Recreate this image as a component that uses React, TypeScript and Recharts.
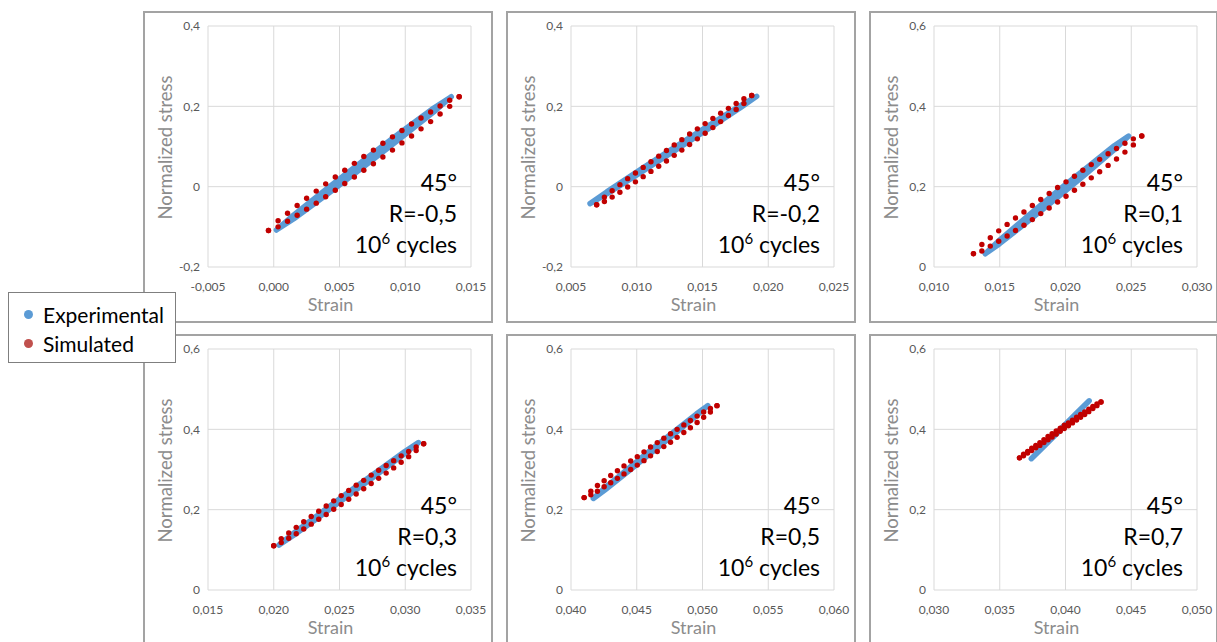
import React from "react";
import { ScatterChart, Scatter, XAxis, YAxis, CartesianGrid } from "recharts";

// axis ticks
const xTicks1 = [-0.005, 0, 0.005, 0.01, 0.015];
const xTicks2 = [0.005, 0.01, 0.015, 0.02, 0.025];
const xTicks3 = [0.01, 0.015, 0.02, 0.025, 0.03];
const xTicks4 = [0.015, 0.02, 0.025, 0.03, 0.035];
const xTicks5 = [0.04, 0.045, 0.05, 0.055, 0.06];
const xTicks6 = [0.03, 0.035, 0.04, 0.045, 0.05];
const yTicksLow = [-0.2, 0, 0.2, 0.4];
const yTicksHigh = [0, 0.2, 0.4, 0.6];

const rLabels = ["R=-0,5", "R=-0,2", "R=0,1", "R=0,3", "R=0,5", "R=0,7"];

// experimental loops (strain, loading stress, unloading stress)
const expStrain1 = [0.0002, 0.00153, 0.00419, 0.00685, 0.00951, 0.01217, 0.0135];
const expLoad1 = [-0.108, -0.08, -0.016, 0.05, 0.117, 0.186, 0.224];
const expUnload1 = [-0.108, -0.07, -0.001, 0.066, 0.132, 0.196, 0.224];
const expStrain2 = [0.00645, 0.00772, 0.01025, 0.01279, 0.01532, 0.01785, 0.01912];
const expLoad2 = [-0.042, -0.018, 0.034, 0.088, 0.141, 0.196, 0.225];
const expUnload2 = [-0.042, -0.013, 0.042, 0.096, 0.149, 0.201, 0.225];
const expStrain3 = [0.0139, 0.01499, 0.01717, 0.01935, 0.02153, 0.02371, 0.0248];
const expLoad3 = [0.033, 0.058, 0.114, 0.172, 0.231, 0.292, 0.326];
const expUnload3 = [0.033, 0.067, 0.128, 0.188, 0.245, 0.302, 0.326];
const expStrain4 = [0.0204, 0.02146, 0.02358, 0.0257, 0.02782, 0.02994, 0.031];
const expLoad4 = [0.112, 0.135, 0.185, 0.236, 0.287, 0.339, 0.367];
const expUnload4 = [0.112, 0.14, 0.192, 0.244, 0.294, 0.344, 0.367];
const expStrain5 = [0.0417, 0.04257, 0.04431, 0.04605, 0.04779, 0.04953, 0.0504];
const expLoad5 = [0.228, 0.249, 0.294, 0.34, 0.386, 0.434, 0.459];
const expUnload5 = [0.228, 0.254, 0.301, 0.348, 0.393, 0.438, 0.459];
const expStrain6 = [0.0374, 0.0385, 0.0396, 0.0407, 0.0418];
const expLoad6 = [0.327, 0.362, 0.398, 0.434, 0.471];
const expUnload6 = [0.327, 0.364, 0.4, 0.436, 0.471];

// simulated loops
const simStrain1 = [-0.0004, 0.00033, 0.00105, 0.00178, 0.0025, 0.00323, 0.00395, 0.00468, 0.0054, 0.00613, 0.00685, 0.00758, 0.0083, 0.00903, 0.00975, 0.01048, 0.0112, 0.01193, 0.01265, 0.01338, 0.0141];
const simLoad1 = [-0.109, -0.1, -0.086, -0.071, -0.056, -0.041, -0.025, -0.009, 0.008, 0.024, 0.041, 0.057, 0.074, 0.091, 0.109, 0.126, 0.144, 0.162, 0.181, 0.2, 0.224];
const simUnload1 = [-0.109, -0.085, -0.066, -0.047, -0.029, -0.011, 0.007, 0.024, 0.041, 0.058, 0.075, 0.091, 0.108, 0.124, 0.14, 0.156, 0.171, 0.186, 0.201, 0.215, 0.224];
const simStrain2 = [0.00695, 0.00754, 0.00813, 0.00872, 0.00931, 0.0099, 0.01049, 0.01108, 0.01167, 0.01226, 0.01285, 0.01343, 0.01402, 0.01461, 0.0152, 0.01579, 0.01638, 0.01697, 0.01756, 0.01815, 0.01874];
const simLoad2 = [-0.045, -0.037, -0.026, -0.014, -0.001, 0.012, 0.025, 0.038, 0.051, 0.064, 0.078, 0.091, 0.105, 0.119, 0.133, 0.147, 0.162, 0.177, 0.192, 0.207, 0.227];
const simUnload2 = [-0.045, -0.026, -0.01, 0.005, 0.02, 0.034, 0.048, 0.062, 0.076, 0.09, 0.104, 0.117, 0.131, 0.144, 0.157, 0.17, 0.183, 0.195, 0.207, 0.219, 0.227];
const simStrain3 = [0.013, 0.01364, 0.01428, 0.01492, 0.01556, 0.0162, 0.01684, 0.01748, 0.01812, 0.01876, 0.0194, 0.02004, 0.02068, 0.02132, 0.02196, 0.0226, 0.02324, 0.02388, 0.02452, 0.02516, 0.0258];
const simLoad3 = [0.033, 0.04, 0.052, 0.064, 0.077, 0.091, 0.104, 0.118, 0.133, 0.147, 0.162, 0.176, 0.191, 0.206, 0.222, 0.237, 0.253, 0.269, 0.286, 0.304, 0.326];
const simUnload3 = [0.033, 0.056, 0.073, 0.09, 0.106, 0.122, 0.137, 0.153, 0.168, 0.183, 0.198, 0.212, 0.226, 0.241, 0.255, 0.268, 0.282, 0.295, 0.308, 0.319, 0.326];
const simStrain4 = [0.02, 0.02057, 0.02114, 0.02171, 0.02228, 0.02285, 0.02342, 0.02399, 0.02456, 0.02513, 0.0257, 0.02627, 0.02684, 0.02741, 0.02798, 0.02855, 0.02912, 0.02969, 0.03026, 0.03083, 0.0314];
const simLoad4 = [0.11, 0.118, 0.129, 0.14, 0.152, 0.164, 0.176, 0.188, 0.201, 0.213, 0.226, 0.239, 0.252, 0.265, 0.278, 0.291, 0.304, 0.318, 0.332, 0.347, 0.364];
const simUnload4 = [0.11, 0.128, 0.142, 0.156, 0.17, 0.183, 0.196, 0.209, 0.222, 0.235, 0.248, 0.261, 0.273, 0.286, 0.298, 0.31, 0.322, 0.334, 0.345, 0.356, 0.364];
const simStrain5 = [0.041, 0.04151, 0.04201, 0.04252, 0.04302, 0.04353, 0.04403, 0.04454, 0.04504, 0.04555, 0.04605, 0.04656, 0.04706, 0.04757, 0.04807, 0.04858, 0.04908, 0.04959, 0.05009, 0.0506, 0.0511];
const simLoad5 = [0.23, 0.237, 0.246, 0.257, 0.267, 0.278, 0.289, 0.3, 0.311, 0.322, 0.334, 0.345, 0.357, 0.368, 0.38, 0.392, 0.404, 0.417, 0.43, 0.443, 0.459];
const simUnload5 = [0.23, 0.246, 0.26, 0.272, 0.285, 0.297, 0.309, 0.321, 0.332, 0.344, 0.356, 0.367, 0.378, 0.389, 0.4, 0.411, 0.422, 0.433, 0.443, 0.452, 0.459];
const simStrain6 = [0.0365, 0.03681, 0.03712, 0.03743, 0.03774, 0.03805, 0.03836, 0.03867, 0.03898, 0.03929, 0.0396, 0.03991, 0.04022, 0.04053, 0.04084, 0.04115, 0.04146, 0.04177, 0.04208, 0.04239, 0.0427];
const simLoad6 = [0.329, 0.334, 0.341, 0.347, 0.354, 0.36, 0.367, 0.374, 0.381, 0.388, 0.395, 0.402, 0.409, 0.416, 0.423, 0.43, 0.437, 0.444, 0.452, 0.459, 0.468];
const simUnload6 = [0.329, 0.338, 0.345, 0.353, 0.36, 0.367, 0.374, 0.382, 0.389, 0.396, 0.403, 0.41, 0.416, 0.423, 0.43, 0.437, 0.443, 0.45, 0.457, 0.463, 0.468];

type Pt = { x: number; y: number };

// loading branch up, unloading branch back down -> closed loop
const loop = (xs: number[], load: number[], unload: number[]): Pt[] => [
  ...xs.map((x, i) => ({ x, y: load[i] })),
  ...xs.map((x, i) => ({ x, y: unload[i] })).reverse(),
];

const BLUE = "#5b9bd5";
const RED = "#c00000";

const panels = [
  { left: 143, top: 11, width: 350, xTicks: xTicks1, yTicks: yTicksLow, r: rLabels[0], exp: loop(expStrain1, expLoad1, expUnload1), sim: loop(simStrain1, simLoad1, simUnload1) },
  { left: 506, top: 11, width: 350, xTicks: xTicks2, yTicks: yTicksLow, r: rLabels[1], exp: loop(expStrain2, expLoad2, expUnload2), sim: loop(simStrain2, simLoad2, simUnload2) },
  { left: 869, top: 11, width: 349, xTicks: xTicks3, yTicks: yTicksHigh, r: rLabels[2], exp: loop(expStrain3, expLoad3, expUnload3), sim: loop(simStrain3, simLoad3, simUnload3) },
  { left: 143, top: 334, width: 350, xTicks: xTicks4, yTicks: yTicksHigh, r: rLabels[3], exp: loop(expStrain4, expLoad4, expUnload4), sim: loop(simStrain4, simLoad4, simUnload4) },
  { left: 506, top: 334, width: 350, xTicks: xTicks5, yTicks: yTicksHigh, r: rLabels[4], exp: loop(expStrain5, expLoad5, expUnload5), sim: loop(simStrain5, simLoad5, simUnload5) },
  { left: 869, top: 334, width: 349, xTicks: xTicks6, yTicks: yTicksHigh, r: rLabels[5], exp: loop(expStrain6, expLoad6, expUnload6), sim: loop(simStrain6, simLoad6, simUnload6) },
];

const fmtX = (v: number) => v.toFixed(3).replace(".", ",");
const fmtY = (v: number) => (v === 0 ? "0" : v.toFixed(1).replace(".", ","));

const SimDot = (p: any) => <circle cx={p.cx} cy={p.cy} r={2.7} fill={RED} />;
const NoDot = () => <g />;

const StrainLabel = (p: any) => {
  const vb = p.viewBox ?? { x: 63, y: 254, width: 263, height: 54 };
  return (
    <text x={vb.x + vb.width / 2 - 9} y={vb.y + 44} textAnchor="middle" fill="#8c8c8c" fontSize={18}>
      Strain
    </text>
  );
};

const StressLabel = (p: any) => {
  const vb = p.viewBox ?? { x: 0, y: 13, width: 63, height: 241 };
  const cx = 20;
  const cy = vb.y + vb.height / 2 + 1;
  return (
    <text x={cx} y={cy} transform={`rotate(-90, ${cx}, ${cy})`} textAnchor="middle" dominantBaseline="central" fill="#8c8c8c" fontSize={18.5}>
      Normalized stress
    </text>
  );
};

function Panel({ p }: { p: (typeof panels)[number] }) {
  const w = p.width - 4;
  const tick = { fill: "#595959", fontSize: 12 };
  return (
    <div
      style={{
        position: "absolute",
        left: p.left,
        top: p.top,
        width: p.width,
        height: 312,
        boxSizing: "border-box",
        border: "2px solid #a3a3a3",
        background: "#fff",
      }}
    >
      <ScatterChart width={w} height={308} margin={{ top: 13, right: w - 326, bottom: 0, left: 0 }}>
        <CartesianGrid stroke="#d9d9d9" />
        <XAxis
          type="number"
          dataKey="x"
          domain={[p.xTicks[0], p.xTicks[p.xTicks.length - 1]]}
          ticks={p.xTicks}
          interval={0}
          allowDataOverflow
          tickFormatter={fmtX}
          tick={tick}
          axisLine={false}
          tickLine={false}
          tickSize={0}
          tickMargin={15}
          height={54}
          label={StrainLabel}
        />
        <YAxis
          type="number"
          dataKey="y"
          domain={[p.yTicks[0], p.yTicks[p.yTicks.length - 1]]}
          ticks={p.yTicks}
          interval={0}
          allowDataOverflow
          tickFormatter={fmtY}
          tick={tick}
          axisLine={false}
          tickLine={false}
          tickSize={0}
          tickMargin={8}
          width={63}
          label={StressLabel}
        />
        <Scatter
          data={p.exp}
          shape={NoDot}
          line={{ stroke: BLUE, strokeWidth: 5.5, strokeLinecap: "round", strokeLinejoin: "round" }}
          isAnimationActive={false}
        />
        <Scatter data={p.sim} shape={SimDot} isAnimationActive={false} />
      </ScatterChart>
      <div
        style={{
          position: "absolute",
          left: 0,
          top: 154,
          width: 312,
          textAlign: "right",
          fontSize: 23,
          lineHeight: "31px",
          color: "#000",
        }}
      >
        <div>45°</div>
        <div>{p.r}</div>
        <div>
          10<span style={{ position: "relative", top: -9, fontSize: 15 }}>6</span> cycles
        </div>
      </div>
    </div>
  );
}

export default function App() {
  return (
    <div
      style={{
        position: "absolute",
        left: 0,
        top: 0,
        width: 1217,
        height: 642,
        overflow: "hidden",
        background: "#fff",
        fontFamily: "Lato, sans-serif",
      }}
    >
      {panels.map((p, i) => (
        <Panel key={i} p={p} />
      ))}
      <div
        style={{
          position: "absolute",
          left: 8,
          top: 292,
          width: 168,
          height: 71,
          boxSizing: "border-box",
          border: "1px solid #7f7f7f",
          background: "#fff",
          fontSize: 21,
          color: "#000",
        }}
      >
        {[
          { name: "Experimental", color: BLUE, y: 21 },
          { name: "Simulated", color: "#c0504d", y: 50 },
        ].map((it) => (
          <div key={it.name} style={{ position: "absolute", left: 0, top: it.y - 13, height: 26, display: "flex", alignItems: "center" }}>
            <span
              style={{
                display: "inline-block",
                width: 9,
                height: 9,
                borderRadius: "50%",
                background: it.color,
                marginLeft: 15,
                marginRight: 10,
              }}
            />
            <span>{it.name}</span>
          </div>
        ))}
      </div>
    </div>
  );
}
